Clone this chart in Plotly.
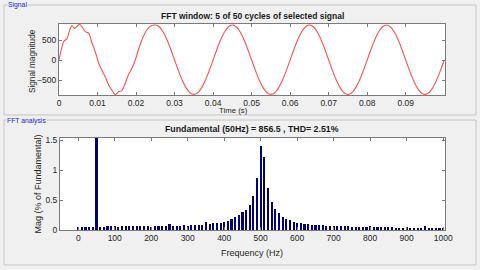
import plotly.graph_objects as go

sig_time = [0, 0.0005, 0.0012, 0.0021, 0.0029, 0.0034, 0.0040, 0.0045, 0.0053, 0.0060,
            0.0068, 0.0077, 0.0086, 0.0094, 0.0103, 0.0111, 0.0120, 0.0129, 0.0137,
            0.0146, 0.0155, 0.0163, 0.0172, 0.0180, 0.0189, 0.0198, 0.0206, 0.0215,
            0.0228, 0.024, 0.025, 0.026, 0.027, 0.028, 0.029, 0.030, 0.031, 0.032, 0.033,
            0.034, 0.035, 0.036, 0.037, 0.038, 0.039, 0.040, 0.041, 0.042, 0.043, 0.044,
            0.045, 0.046, 0.047, 0.048, 0.049, 0.050, 0.051, 0.052, 0.053, 0.054, 0.055,
            0.056, 0.057, 0.058, 0.059, 0.060, 0.061, 0.062, 0.063, 0.064, 0.065, 0.066,
            0.067, 0.068, 0.069, 0.070, 0.071, 0.072, 0.073, 0.074, 0.075, 0.076, 0.077,
            0.078, 0.079, 0.080, 0.081, 0.082, 0.083, 0.084, 0.085, 0.086, 0.087, 0.088,
            0.089, 0.090, 0.091, 0.092, 0.093, 0.094, 0.095, 0.096, 0.097, 0.098, 0.099,
            0.100]
sig_value = [0, 220, 457, 540, 790, 860, 790, 830, 895, 830,
             710, 670, 420, 210, -80, -250, -420, -625, -750,
             -870, -790, -770, -580, -375, -210, 0, 250, 500,
             750, 860, 875, 832, 708, 514, 270, 0, -266, -506, -696,
             -818, -860, -818, -696, -506, -266, 0, 270, 514, 708, 832,
             875, 832, 708, 514, 270, 0, -266, -506, -696, -818, -860,
             -818, -696, -506, -266, 0, 270, 514, 708, 832, 875, 832,
             708, 514, 270, 0, -266, -506, -696, -818, -860, -818, -696,
             -506, -266, 0, 270, 514, 708, 832, 875, 832, 708, 514,
             270, 0, -266, -506, -696, -818, -860, -818, -696, -506, -266,
             0]

fft_freq = list(range(0, 1001, 10))
fft_mag = [0.05, 0.055, 0.055, 0.055, 0.055, 100, 0.055, 0.055, 0.06, 0.06,
           0.06, 0.045, 0.06, 0.06, 0.06, 0.06, 0.06, 0.06, 0.06, 0.06,
           0.045, 0.06, 0.065, 0.065, 0.07, 0.10, 0.07, 0.075, 0.075, 0.08,
           0.075, 0.08, 0.08, 0.085, 0.09, 0.13, 0.10, 0.11, 0.115, 0.12,
           0.13, 0.15, 0.18, 0.22, 0.25, 0.30, 0.33, 0.41, 0.56, 0.87,
           1.40, 1.21, 0.70, 0.46, 0.35, 0.28, 0.22, 0.18, 0.16, 0.14,
           0.12, 0.11, 0.10, 0.095, 0.09, 0.085, 0.08, 0.08, 0.075, 0.07,
           0.065, 0.065, 0.06, 0.06, 0.06, 0.055, 0.055, 0.055, 0.05, 0.05,
           0.06, 0.05, 0.045, 0.045, 0.045, 0.045, 0.045, 0.04, 0.04, 0.04,
           0.055, 0.04, 0.04, 0.04, 0.04, 0.065, 0.04, 0.035, 0.035, 0.035,
           0.03]

time_ticks = [0, 0.01, 0.02, 0.03, 0.04, 0.05, 0.06, 0.07, 0.08, 0.09]
time_ticklabels = ["0", "0.01", "0.02", "0.03", "0.04", "0.05", "0.06", "0.07", "0.08", "0.09"]
sig_yticks = [-500, 0, 500]
freq_ticks = list(range(0, 1001, 100))
mag_ticks = [0, 0.5, 1, 1.5]
mag_ticklabels = ["0", "0.5", "1", "1.5"]

W, H = 480, 270
def px(x):
    return x / W
def py(y):
    return 1 - y / H

BG = "#f0f0f0"
FONT = "Liberation Sans, Arial, sans-serif"
TICKC = "#262626"
AXC = "#7a7a7a"

fig = go.Figure()
fig.add_trace(go.Scatter(x=sig_time, y=sig_value, mode="lines",
                         line=dict(color="#ff5050", width=1.1, shape="spline", smoothing=0.6),
                         xaxis="x", yaxis="y", showlegend=False, hoverinfo="skip"))
fig.add_trace(go.Bar(x=fft_freq, y=fft_mag, width=5.8,
                     marker=dict(color="#00007a", line=dict(width=0)),
                     xaxis="x2", yaxis="y2", showlegend=False, hoverinfo="skip"))

axis_common = dict(showgrid=False, zeroline=False, showline=True, linecolor=AXC, linewidth=1,
                   mirror="ticks", ticks="inside", ticklen=3, tickcolor=AXC, automargin=False,
                   tickfont=dict(family=FONT, size=8.5, color=TICKC))

fig.update_layout(
    width=W, height=H, margin=dict(l=0, r=0, t=0, b=0, pad=0, autoexpand=False),
    paper_bgcolor=BG, plot_bgcolor="white",
    xaxis=dict(domain=[px(59), px(445)], anchor="y", range=[0, 0.1002],
               tickvals=time_ticks, ticktext=time_ticklabels, **axis_common),
    yaxis=dict(domain=[py(95), py(24)], anchor="x", range=[-875, 900],
               tickvals=sig_yticks, **axis_common),
    xaxis2=dict(domain=[px(60), px(445)], anchor="y2", range=[-50, 1005],
                tickvals=freq_ticks, **axis_common),
    yaxis2=dict(domain=[py(230), py(137.7)], anchor="x2", range=[0, 1.54],
                tickvals=mag_ticks, ticktext=mag_ticklabels, **axis_common),
    bargap=0,
)

shapes = []
for (x0, y0, x1, y1) in [(4, 5, 476, 115), (4, 120, 476, 265)]:
    shapes.append(dict(type="rect", xref="paper", yref="paper",
                       x0=px(x0), x1=px(x1), y0=py(y1), y1=py(y0),
                       line=dict(color="#c4c4c4", width=1), fillcolor="rgba(0,0,0,0)", layer="below"))
fig.update_layout(shapes=shapes)

ann = []
def text(x, y, s, size=8.5, bold=False, color=TICKC, angle=0, bg=None, xanchor="center"):
    d = dict(xref="paper", yref="paper", x=px(x), y=py(y), text=("<b>%s</b>" % s) if bold else s,
             showarrow=False, textangle=angle, xanchor=xanchor, yanchor="middle",
             font=dict(family=FONT, size=size, color=color))
    if bg:
        d["bgcolor"] = bg
        d["borderpad"] = 0
    ann.append(d)

text(252, 16, "FFT window: 5 of 50 cycles of selected signal", size=8.5, bold=True, color="#1a1a1a")
text(252, 129, "Fundamental (50Hz) = 856.5 , THD= 2.51%", size=8.8, bold=True, color="#1a1a1a")
text(33, 61, "Signal magnitude", size=8.2, angle=-90)
text(37.5, 184, "Mag (% of Fundamental)", size=9, angle=-90)
text(233, 110.5, "Time (s)", size=7.8)
text(252, 253, "Frequency (Hz)", size=9)
text(7, 5, "Signal", size=6.8, color="#2222cc", bg=BG, xanchor="left")
text(6, 120.5, "FFT analysis", size=6.8, color="#2222cc", bg=BG, xanchor="left")
fig.update_layout(annotations=ann)

fig.write_html("out.html", config={"displayModeBar": False, "staticPlot": True},
               post_script="document.body.style.margin='0';document.body.style.padding='0';document.body.style.overflow='hidden';")
